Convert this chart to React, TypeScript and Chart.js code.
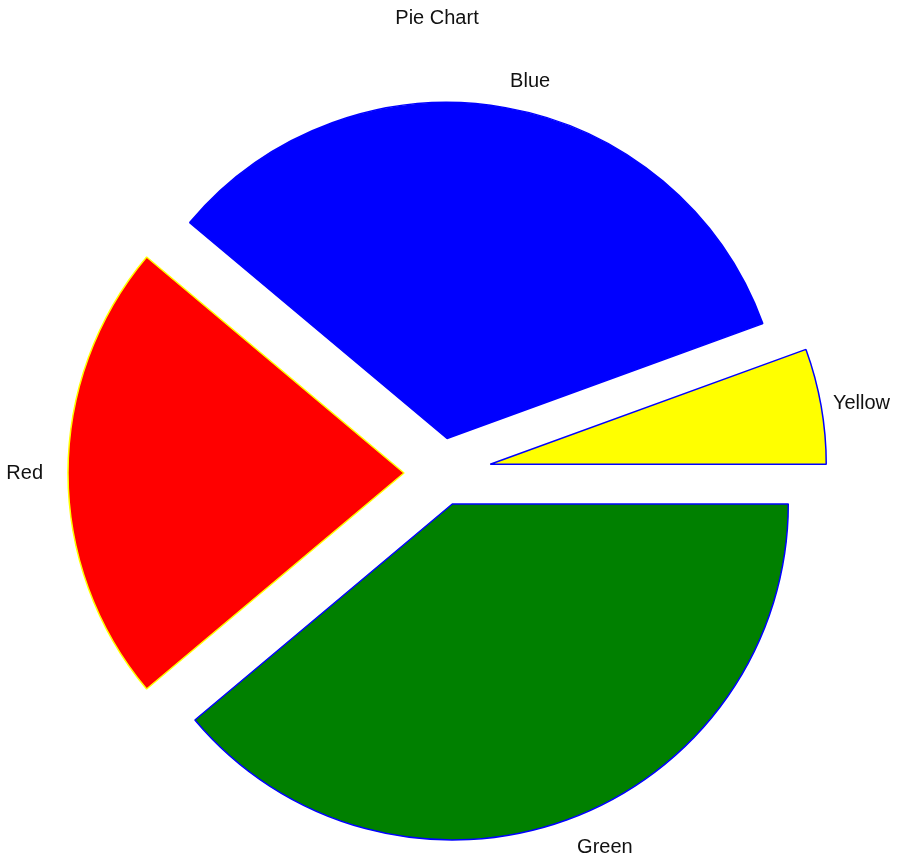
import React, { useEffect, useRef } from "react";
import { Chart, registerables } from "chart.js";

Chart.register(...registerables);

const titleText = "Pie Chart";
const categories = ["Green", "Red", "Blue", "Yellow"];
const values = [7, 4, 6, 1];
const fillColors = ["#008000", "#ff0000", "#0000ff", "#ffff00"];
const edgeColors = ["#0000ff", "#ffff00", "#0000ff", "#0000ff"];
const explode = [33, 37, 35, 50];

const RADIUS = 336;
const FONT = '20px "Liberation Sans", Arial, sans-serif';

// Chart.js grows exploded arcs and trims their angles; undo that so every
// slice keeps the same radius and its exact share of the circle.
const fixRadiusPlugin = {
  id: "fixRadius",
  afterDatasetUpdate(chart: any, args: any) {
    const meta = args.meta;
    meta.data.forEach((arc: any, i: number) => {
      const off = explode[i] || 0;
      const circ = arc.circumference;
      const fix = 1 - Math.sin(Math.min(Math.PI, circ));
      const o = off * fix;
      arc.outerRadius = RADIUS - o;
      const da = o / (2 * Math.PI * RADIUS);
      arc.startAngle = arc.startAngle - da;
      arc.endAngle = arc.endAngle + da;
    });
  },
};

const labelPlugin = {
  id: "pieLabels",
  afterDraw(chart: any) {
    const ctx = chart.ctx;
    ctx.save();
    ctx.font = FONT;
    ctx.fillStyle = "#111";
    ctx.textBaseline = "middle";
    ctx.textAlign = "center";
    ctx.fillText(titleText, 437, 18);
    const meta = chart.getDatasetMeta(0);
    meta.data.forEach((arc: any, i: number) => {
      const mid = (arc.startAngle + arc.endAngle) / 2;
      const c = Math.cos(mid);
      const s = Math.sin(mid);
      const L = 398;
      const x = arc.x + c * L;
      const y = arc.y + s * L;
      ctx.textAlign = c > 0.1 ? "left" : c < -0.1 ? "right" : "center";
      ctx.fillText(categories[i], x, y);
    });
    ctx.restore();
  },
};

export default function App() {
  const ref = useRef<HTMLCanvasElement>(null);
  useEffect(() => {
    if (!ref.current) return;
    const chart = new Chart(ref.current, {
      type: "pie",
      data: {
        labels: categories,
        datasets: [
          {
            data: values,
            backgroundColor: fillColors,
            borderColor: edgeColors,
            borderWidth: 1.5,
            offset: explode.map((o) => o * 4),
            clip: false as any,
          },
        ],
      },
      options: {
        responsive: false,
        animation: false,
        rotation: 90,
        radius: RADIUS,
        layout: { padding: { left: 0, right: 22, top: 86, bottom: 0 } },
        plugins: {
          legend: { display: false },
          tooltip: { enabled: false },
          title: { display: false },
        },
      },
      plugins: [fixRadiusPlugin, labelPlugin],
    });
    return () => chart.destroy();
  }, []);
  return (
    <div style={{ position: "fixed", left: 0, top: 0, width: 904, height: 860, background: "#fff" }}>
      <canvas ref={ref} width={904} height={860} />
    </div>
  );
}
